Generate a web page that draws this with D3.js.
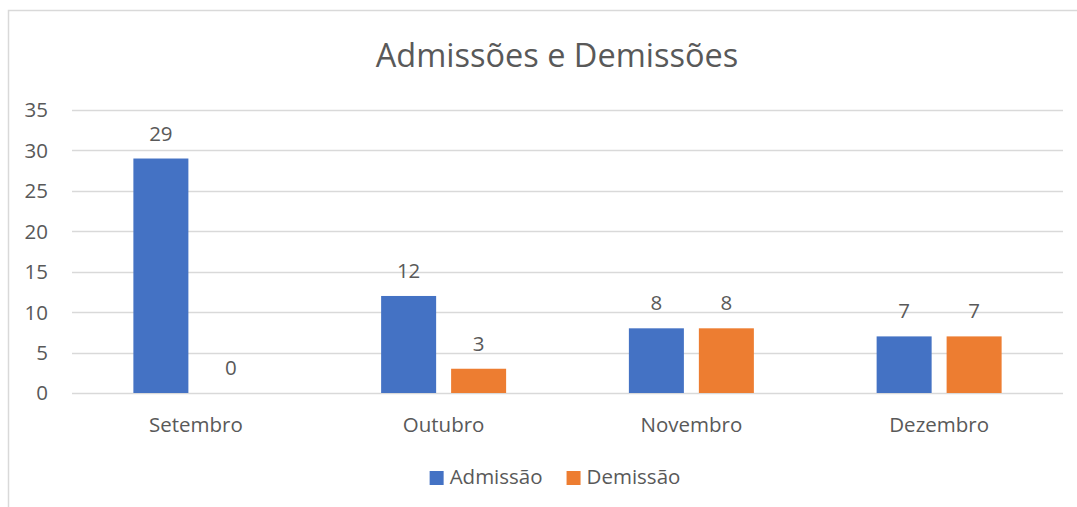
<!DOCTYPE html>
<html>
<head>
<meta charset="utf-8">
<script src="https://cdn.jsdelivr.net/npm/d3@7"></script>
<style>
    body { margin: 0; background: #fff; }
    text { font-family: "Open Sans", sans-serif; fill: #595959; }
</style>
</head>
<body>
<div id="chart"></div>
<script>
const months = ["Setembro", "Outubro", "Novembro", "Dezembro"];
const series = ["Admissão", "Demissão"];
const admissao = [29, 12, 8, 7];
const demissao = [0, 3, 8, 7];
const yTicks = [0, 5, 10, 15, 20, 25, 30, 35];
const colors = ["#4472C4", "#ED7D31"];

const width = 1077, height = 507;
const margin = { top: 110, right: 14, bottom: 114, left: 72 };

const svg = d3.select("#chart").append("svg")
    .attr("width", width)
    .attr("height", height);

// chart frame (extends past the right/bottom edge like the cropped original)
svg.append("rect")
    .attr("x", 8.5).attr("y", 10.5)
    .attr("width", 1200).attr("height", 600)
    .attr("fill", "none")
    .attr("stroke", "#d9d9d9")
    .attr("stroke-width", 1.5);

svg.append("text")
    .attr("x", 557).attr("y", 67)
    .attr("text-anchor", "middle")
    .style("font-size", "32.5px")
    .text("Admissões e Demissões");

const y = d3.scaleLinear()
    .domain([0, 35])
    .range([height - margin.bottom, margin.top]);

const x0 = d3.scaleBand()
    .domain(months)
    .range([margin.left, width - margin.right])
    .padding(0);

const x1 = d3.scaleBand()
    .domain(series)
    .range([0, x0.bandwidth()])
    .paddingInner(0.214)
    .paddingOuter(0.877);

// gridlines
svg.append("g")
    .selectAll("line")
    .data(yTicks)
    .enter().append("line")
    .attr("x1", margin.left)
    .attr("x2", width - margin.right)
    .attr("y1", d => Math.round(y(d)) + 0.5)
    .attr("y2", d => Math.round(y(d)) + 0.5)
    .attr("stroke", "#d9d9d9")
    .attr("stroke-width", 1.5);

// y labels
svg.append("g")
    .selectAll("text")
    .data(yTicks)
    .enter().append("text")
    .attr("x", 48)
    .attr("y", d => y(d))
    .attr("dy", "0.36em")
    .attr("text-anchor", "end")
    .style("font-size", "20.5px")
    .text(d => d);

const rows = months.map((m, i) => ({ month: m, values: [admissao[i], demissao[i]] }));

const groups = svg.selectAll(".month")
    .data(rows)
    .enter().append("g")
    .attr("class", "month")
    .attr("transform", d => `translate(${x0(d.month)},0)`);

groups.selectAll("rect")
    .data(d => d.values.map((v, j) => ({ key: series[j], value: v, idx: j })))
    .enter().append("rect")
    .attr("x", d => x1(d.key))
    .attr("y", d => y(d.value))
    .attr("width", x1.bandwidth())
    .attr("height", d => y(0) - y(d.value))
    .attr("fill", d => colors[d.idx]);

groups.selectAll(".val")
    .data(d => d.values.map((v, j) => ({ key: series[j], value: v })))
    .enter().append("text")
    .attr("class", "val")
    .attr("x", d => x1(d.key) + x1.bandwidth() / 2)
    .attr("y", d => y(d.value) - 18)
    .attr("text-anchor", "middle")
    .style("font-size", "20.5px")
    .text(d => d.value);

// category labels
svg.append("g")
    .selectAll("text")
    .data(months)
    .enter().append("text")
    .attr("x", d => x0(d) + x0.bandwidth() / 2)
    .attr("y", 432)
    .attr("text-anchor", "middle")
    .style("font-size", "20.5px")
    .text(d => d);

// legend
const legend = svg.append("g");
let lx = 0;
series.forEach((s, i) => {
    const g = legend.append("g").attr("transform", `translate(${lx},0)`);
    g.append("rect")
        .attr("x", 0).attr("y", 471)
        .attr("width", 14).attr("height", 14)
        .attr("fill", colors[i]);
    const t = g.append("text")
        .attr("x", 20).attr("y", 484)
        .style("font-size", "20.5px")
        .text(s);
    lx += 20 + t.node().getComputedTextLength() + 24;
});
const lw = lx - 24;
legend.attr("transform", `translate(${555 - lw / 2},0)`);
</script>
</body>
</html>
